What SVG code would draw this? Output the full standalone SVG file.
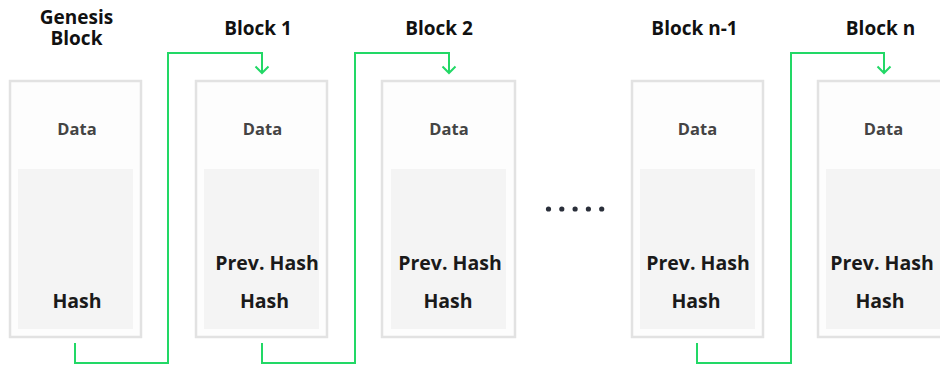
<svg xmlns="http://www.w3.org/2000/svg" width="940" height="365" viewBox="0 0 940 365">
<style>
.outer{fill:#fdfdfd;stroke:#e2e2e2;stroke-width:2.5}
.inner{fill:#f4f4f4}
.data{font-family:"Open Sans","DejaVu Sans",sans-serif;font-weight:700;font-size:16.5px;fill:#444;text-anchor:middle}
.hash{font-family:"Open Sans","DejaVu Sans",sans-serif;font-weight:700;font-size:19.5px;fill:#1a1a1a;text-anchor:middle}
.title{font-family:"Open Sans","DejaVu Sans",sans-serif;font-weight:700;font-size:19px;fill:#111;text-anchor:middle}
.link{fill:none;stroke:#22d866;stroke-width:2}
</style>
<rect width="940" height="365" fill="#ffffff"/>
<g id="genesis">
<text class="title" x="76.5" y="24"><tspan x="76.5">Genesis</tspan><tspan x="76.5" dy="21">Block</tspan></text>
<rect class="outer" x="10" y="81" width="131" height="256"/>
<rect class="inner" x="18" y="169" width="115" height="160"/>
<text class="data" x="77" y="134.5">Data</text>
<text class="hash" x="77" y="308">Hash</text>
</g>
<g id="block1">
<text class="title" x="258" y="35">Block 1</text>
<rect class="outer" x="196" y="81" width="131" height="256"/>
<rect class="inner" x="204" y="169" width="115" height="160"/>
<text class="data" x="262.5" y="134.5">Data</text>
<text class="hash" x="267" y="270">Prev. Hash</text>
<text class="hash" x="264.5" y="308">Hash</text>
</g>
<g id="block2">
<text class="title" x="439" y="35">Block 2</text>
<rect class="outer" x="382" y="81" width="133" height="256"/>
<rect class="inner" x="391" y="169" width="115" height="160"/>
<text class="data" x="449" y="134.5">Data</text>
<text class="hash" x="450" y="270">Prev. Hash</text>
<text class="hash" x="448" y="308">Hash</text>
</g>
<g id="ellipsis" fill="#2a2f3a">
<circle cx="548.5" cy="209" r="2.6"/>
<circle cx="561.8" cy="209" r="2.6"/>
<circle cx="575.1" cy="209" r="2.6"/>
<circle cx="588.4" cy="209" r="2.6"/>
<circle cx="601.7" cy="209" r="2.6"/>
</g>
<g id="blockn1">
<text class="title" x="694.5" y="35">Block n-1</text>
<rect class="outer" x="632" y="81" width="131" height="256"/>
<rect class="inner" x="640" y="169" width="115" height="160"/>
<text class="data" x="697.5" y="134.5">Data</text>
<text class="hash" x="698" y="270">Prev. Hash</text>
<text class="hash" x="696" y="308">Hash</text>
</g>
<g id="blockn">
<text class="title" x="880.5" y="35">Block n</text>
<rect class="outer" x="818" y="81" width="150" height="256"/>
<rect class="inner" x="826" y="169" width="130" height="160"/>
<text class="data" x="883.5" y="134.5">Data</text>
<text class="hash" x="882" y="270">Prev. Hash</text>
<text class="hash" x="880" y="308">Hash</text>
</g>
<g id="connectors" class="link">
<polyline points="75,343 75,363 168,363 168,53 262,53 262,73"/>
<polyline points="255.5,66.5 262,73 268.5,66.5"/>
<polyline points="262,343 262,363 355,363 355,53 449,53 449,73"/>
<polyline points="442.5,66.5 449,73 455.5,66.5"/>
<polyline points="697,343 697,363 791,363 791,53 884,53 884,73"/>
<polyline points="877.5,66.5 884,73 890.5,66.5"/>
</g>
</svg>
